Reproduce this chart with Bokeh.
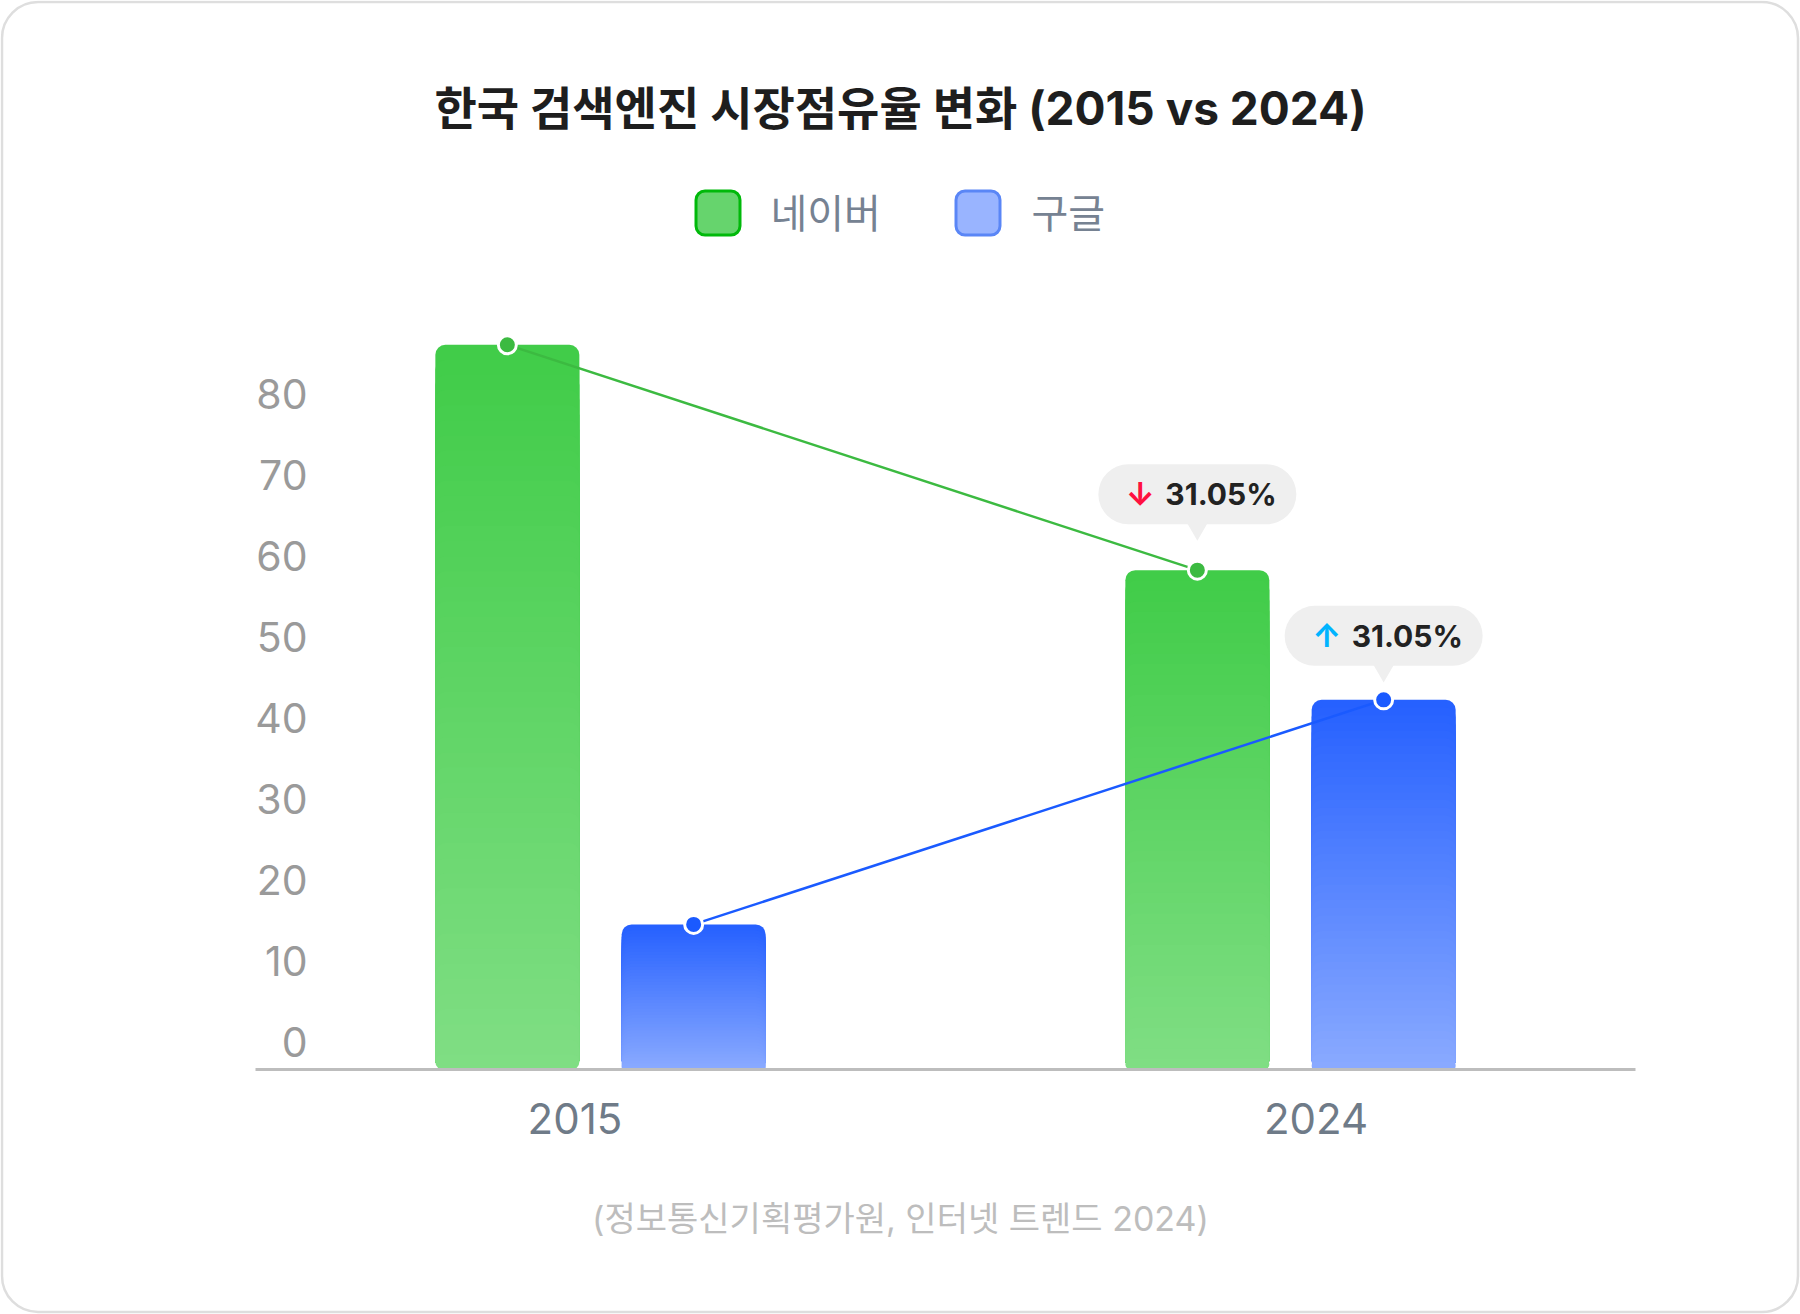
from bokeh.plotting import figure
from bokeh.models import Range1d, ColumnDataSource
from bokeh.core.properties import value
from bokeh.embed import file_html
from bokeh.resources import INLINE

# ---------------- data ----------------
years = ["2015", "2024"]
series_names = ["네이버", "구글"]
naver = [89.4, 61.6]
google = [17.9, 45.6]
change_text = ["31.05%", "31.05%"]      # naver, google (2024 vs 2015)
change_arrow = ["↓", "↑"]
y_ticks = [0, 10, 20, 30, 40, 50, 60, 70, 80]
title_text = "한국 검색엔진 시장점유율 변화 (2015 vs 2024)"
source_text = "(정보통신기획평가원, 인터넷 트렌드 2024)"

# ---------------- layout constants ----------------
FONT = "Inter, 'Noto Sans CJK KR', sans-serif"
W, H = 1800, 1314
PPU = 8.106             # px per percentage point
UPX = 690.0             # px per category
ZERO_X = 255            # page x of category-axis start
ZERO_Y = 1069           # page y of value 0
LABEL_SPREAD = 1.074    # category labels sit slightly wider apart than the groups

y_start = -(H - ZERO_Y) / PPU
y_end = ZERO_Y / PPU
x_start = -ZERO_X / UPX
x_end = x_start + W / UPX

p = figure(width=W, height=H, title=None,
           x_range=Range1d(x_start, x_end), y_range=Range1d(y_start, y_end),
           output_backend="svg", toolbar_location=None,
           x_axis_location=None, y_axis_location=None,
           min_border_left=0, min_border_right=0, min_border_top=0, min_border_bottom=0)
# pixel-like helper ranges for layout items (title, legend, notes, card)
p.extra_x_ranges = {"sx": Range1d(0, W)}
p.extra_y_ranges = {"sy": Range1d(H, 0)}
p.background_fill_color = "white"
p.border_fill_color = "white"
p.outline_line_color = None
p.grid.visible = False

# card border
p.quad(left=[1.5], right=[W - 2.5], top=[1.5], bottom=[H - 2.5],
       x_range_name="sx", y_range_name="sy", fill_color=None,
       line_color="#dedede", line_width=2.5, border_radius=36)

n_cat = len(years)
centers = [i + 0.5 for i in range(n_cat)]
DODGE = 0.135
BAR_W = 144 / UPX
naver_x = [c - DODGE for c in centers]
google_x = [c + DODGE for c in centers]


def gradient_layers(xs, vals, top_rgb, bot_rgb, n=48):
    X, T, C = [], [], []
    for x, v in zip(xs, vals):
        for k in range(n):
            f = (k + 0.5) / n
            rgb = tuple(int(round(a + (b - a) * f)) for a, b in zip(top_rgb, bot_rgb))
            X.append(x)
            T.append(v * (1 - k / n))
            C.append("#%02x%02x%02x" % rgb)
    return ColumnDataSource(dict(x=X, top=T, color=C))


NAVER_TOP, NAVER_BOT = (64, 204, 72), (128, 222, 132)
GOOGLE_TOP, GOOGLE_BOT = (37, 96, 255), (138, 170, 255)

p.vbar(x="x", top="top", bottom=0, width=BAR_W, fill_color="color", line_color=None,
       border_radius=10, source=gradient_layers(naver_x, naver, NAVER_TOP, NAVER_BOT))
p.vbar(x="x", top="top", bottom=0, width=BAR_W, fill_color="color", line_color=None,
       border_radius=10, source=gradient_layers(google_x, google, GOOGLE_TOP, GOOGLE_BOT))

# baseline
p.segment(x0=[0], x1=[n_cat], y0=[0], y1=[0], line_color="#bdbdbd", line_width=3)

# trend lines and points
NAVER_LINE, GOOGLE_LINE = "#3cba41", "#1a5aff"
p.line(naver_x, naver, line_color=NAVER_LINE, line_width=2.5)
p.line(google_x, google, line_color=GOOGLE_LINE, line_width=2.5)
p.scatter(naver_x, naver, size=18, fill_color=NAVER_LINE, line_color="white", line_width=3)
p.scatter(google_x, google, size=18, fill_color=GOOGLE_LINE, line_color="white", line_width=3)

# change bubbles (on the last year)
bubbles = [
    (naver_x[-1], naver[-1], 76, change_arrow[0], change_text[0], "#ff1040"),
    (google_x[-1], google[-1], 64, change_arrow[1], change_text[1], "#00b4ff"),
]
for bx, bv, off, arrow, txt, acol in bubbles:
    cy = bv + off / PPU
    p.vbar(x=[bx], top=[cy + 30 / PPU], bottom=[cy - 30 / PPU], width=198 / UPX,
           fill_color="#efefef", line_color=None, border_radius=30)
    p.scatter([bx], [bv + (off - 34) / PPU], marker="inverted_triangle", size=22,
              fill_color="#efefef", line_color=None)
    p.text([bx], [cy], text=[arrow], x_offset=-57, text_align="center",
           text_baseline="middle", text_font=value(FONT), text_font_size="32px",
           text_font_style="bold", text_color=acol)
    p.text([bx], [cy], text=[txt], x_offset=-32, text_align="left",
           text_baseline="middle", text_font=value(FONT), text_font_size="30px",
           text_font_style="bold", text_color="#222222")

# y tick labels (sit just above their value)
LABEL_LIFT = 27.5 / PPU
p.text(x=[307] * len(y_ticks), y=[t + LABEL_LIFT for t in y_ticks],
       text=[str(t) for t in y_ticks],
       x_range_name="sx", text_align="right", text_baseline="middle",
       text_font=value(FONT), text_font_size="41px", text_color="#9a9a9a")

# category labels under the baseline
mid = n_cat / 2
label_x = [mid + (c - mid) * LABEL_SPREAD for c in centers]
p.text(x=label_x, y=[1118] * n_cat, text=years, y_range_name="sy",
       text_align="center", text_baseline="middle", text_font=value(FONT),
       text_font_size="42px", text_color="#6f7b88")

# source note
p.text(x=[900], y=[1218], text=[source_text], x_range_name="sx", y_range_name="sy",
       text_align="center", text_baseline="middle", text_font=value(FONT),
       text_font_size="34px", text_color="#bdbdbd")

# title
p.text(x=[900], y=[107], text=[title_text], x_range_name="sx", y_range_name="sy",
       text_align="center", text_baseline="middle", text_font=value(FONT),
       text_font_size="46px", text_font_style="bold", text_color="#1e1e1e")

# legend
leg_left = [694, 954]
leg_fill = ["#66d46d", "#99b4ff"]
leg_line = ["#00b90a", "#5a86f6"]
p.quad(left=[l + 1.5 for l in leg_left], right=[l + 45.5 for l in leg_left],
       top=[190.5, 190.5], bottom=[234.5, 234.5], x_range_name="sx", y_range_name="sy",
       fill_color=leg_fill, line_color=leg_line, line_width=3, border_radius=9)
p.text(x=[770, 1031], y=[212.5, 212.5], text=series_names, x_range_name="sx",
       y_range_name="sy", text_align="left", text_baseline="middle",
       text_font=value(FONT), text_font_size="40px", text_color="#768292")

open("out.html", "w").write(file_html(p, INLINE))
